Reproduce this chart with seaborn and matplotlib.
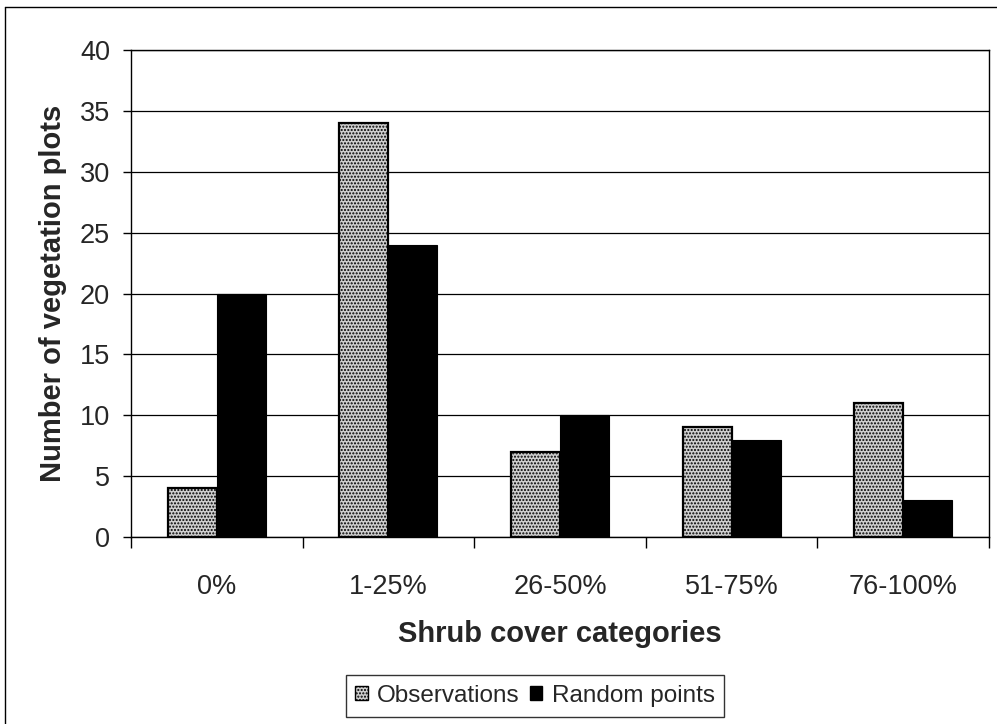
import matplotlib
matplotlib.use("Agg")
import matplotlib.pyplot as plt
from matplotlib.patches import Patch
from matplotlib.lines import Line2D
import numpy as np
import pandas as pd
import seaborn as sns

# Shrub cover categories and plot counts
categories = ["0%", "1-25%", "26-50%", "51-75%", "76-100%"]
observations = [4, 34, 7, 9, 11]
random_points = [20, 24, 10, 8, 3]
series_names = ["Observations", "Random points"]
y_ticks = [0, 5, 10, 15, 20, 25, 30, 35, 40]

df = pd.DataFrame({
    "category": categories * 2,
    "count": observations + random_points,
    "series": [series_names[0]] * len(categories) + [series_names[1]] * len(categories),
})

sns.set_theme(style="white")
plt.rcParams["font.family"] = ["Liberation Sans", "DejaVu Sans"]
plt.rcParams["hatch.linewidth"] = 1.0

fig = plt.figure(figsize=(9.97, 7.24), dpi=100)
ax = fig.add_axes([131 / 997, 1 - 537 / 724, (989 - 131) / 997, (537 - 50) / 724])

obs_face = "#cfcfcf"
sns.barplot(data=df, x="category", y="count", hue="series", order=categories,
            hue_order=series_names, palette=[obs_face, "black"], width=0.57,
            saturation=1, ax=ax, legend=False, zorder=3)

# stippled fill for the observation bars, solid black for random points
for bar in ax.containers[0]:
    bar.set_facecolor(obs_face)
    bar.set_hatch(".....")
    bar.set_edgecolor("black")
    bar.set_linewidth(1.6)
for bar in ax.containers[1]:
    bar.set_facecolor("black")
    bar.set_edgecolor("black")
    bar.set_linewidth(0.8)

ax.set_xlim(-0.5, len(categories) - 0.5)
ax.set_ylim(0, 40)
ax.set_yticks(y_ticks)
ax.yaxis.grid(True, color="black", linewidth=0.9, zorder=0)
ax.set_axisbelow(True)

for side in ["left", "bottom", "right", "top"]:
    ax.spines[side].set_visible(True)
    ax.spines[side].set_color("black")
    ax.spines[side].set_linewidth(1.0)

tick_size = 19.5
ax.tick_params(axis="y", which="major", direction="out", length=6, width=1,
               color="black", labelsize=tick_size, pad=9, left=True)
ax.set_xticks(range(len(categories)))
ax.set_xticklabels(categories)
ax.set_xticks(np.arange(-0.5, len(categories), 1.0), minor=True)
ax.tick_params(axis="x", which="major", length=0, labelsize=tick_size, pad=27)
ax.tick_params(axis="x", which="minor", direction="out", length=8, width=1,
               color="black", bottom=True)

ax.set_xlabel("Shrub cover categories", fontsize=21, fontweight="bold", labelpad=14)
ax.set_ylabel("Number of vegetation plots", fontsize=21, fontweight="bold", labelpad=9)

handles = [
    Patch(facecolor=obs_face, edgecolor="black", hatch=".....", linewidth=1.0),
    Patch(facecolor="black", edgecolor="black"),
]
leg = fig.legend(handles, series_names, loc="center", bbox_to_anchor=(535 / 997, 1 - 696 / 724),
                 ncol=2, fontsize=17.5, frameon=True, fancybox=False, edgecolor="black",
                 handlelength=0.5, handleheight=0.5, handletextpad=0.4, columnspacing=0.4,
                 borderpad=0.4, borderaxespad=0)
leg.get_frame().set_linewidth(1.0)

# chart area frame along the top and left
fig.add_artist(Line2D([5 / 997, 1.0], [1 - 7 / 724, 1 - 7 / 724], color="black", linewidth=1.0,
                      transform=fig.transFigure))
fig.add_artist(Line2D([5 / 997, 5 / 997], [0.0, 1 - 7 / 724], color="black", linewidth=1.0,
                      transform=fig.transFigure))

fig.savefig("out.png", dpi=100, facecolor="white")
